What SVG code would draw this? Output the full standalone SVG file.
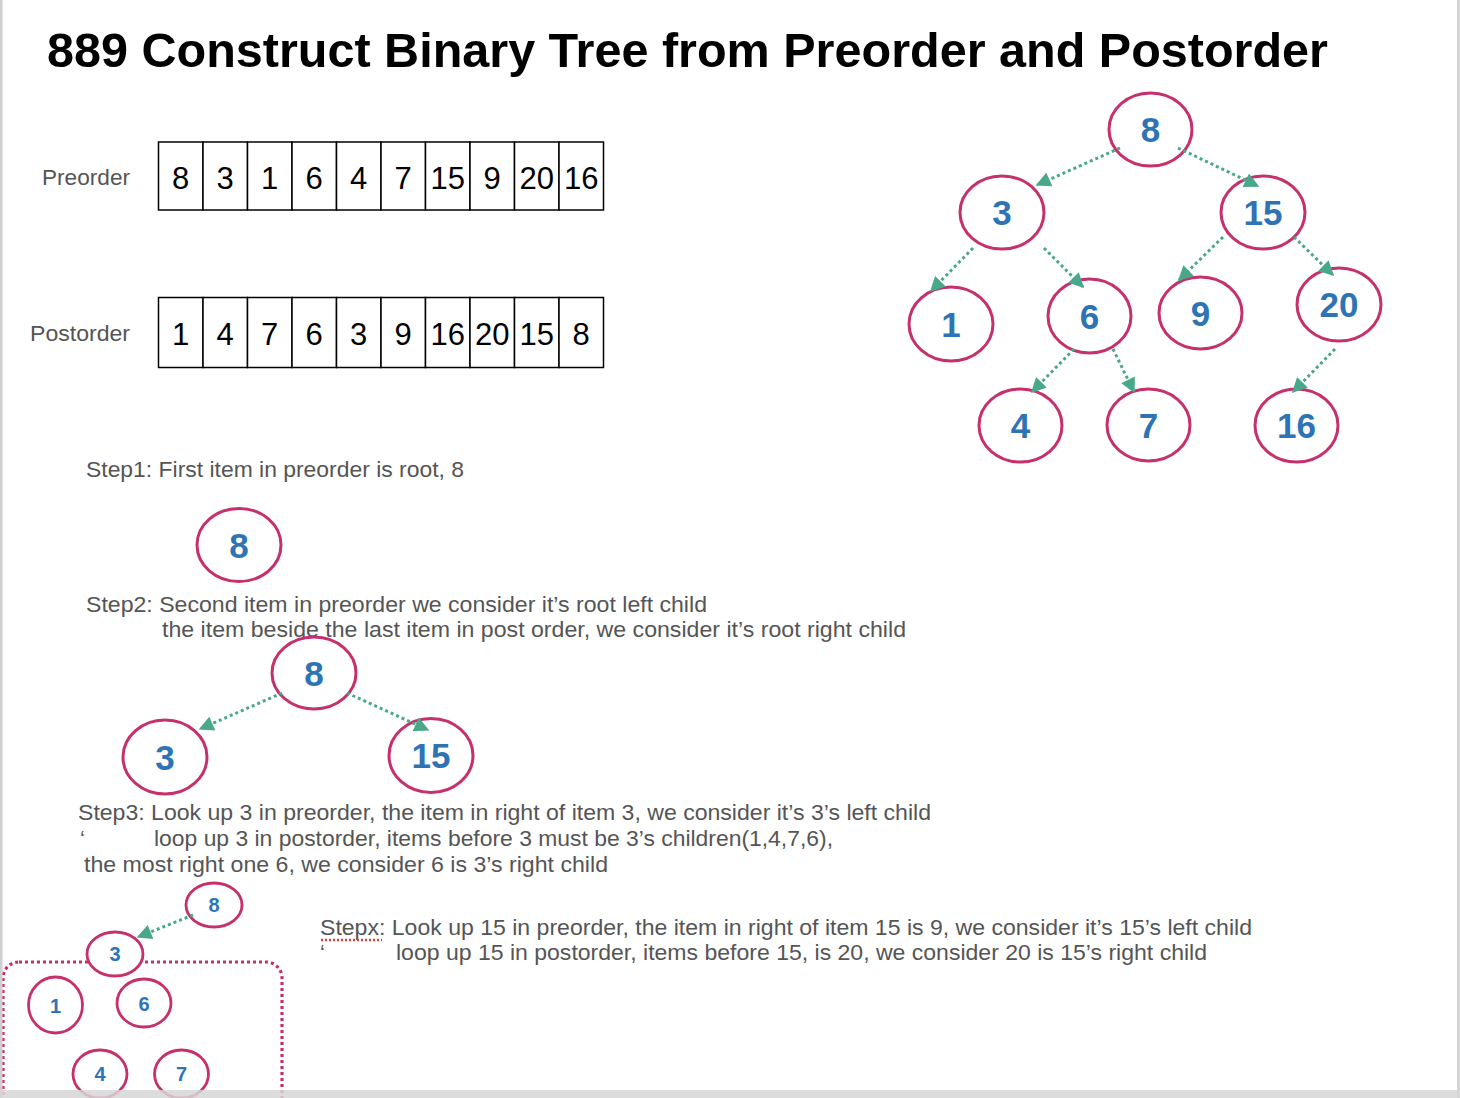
<svg xmlns="http://www.w3.org/2000/svg" width="1460" height="1098" viewBox="0 0 1460 1098">
<defs>
<style>
.title{font-family:"Liberation Sans",Arial,sans-serif;font-weight:bold;font-size:48px;fill:#000}
.lbl{font-family:"Liberation Sans",Arial,sans-serif;font-size:22px;fill:#555}
.cell{fill:#fff;stroke:#000;stroke-width:1.5}
.num{font-family:"Liberation Sans",Arial,sans-serif;font-size:31px;fill:#000;text-anchor:middle}
.node ellipse{fill:#fff;stroke:#c5306d;stroke-width:3}
.node text{font-family:"Liberation Sans",Arial,sans-serif;font-weight:bold;font-size:35px;fill:#2e74b5;text-anchor:middle}
.small ellipse{stroke-width:2.8}
.small text{font-size:20px}
.edge{stroke:#4aa88a;stroke-width:3;stroke-dasharray:3 3;fill:none;marker-end:url(#ah)}
</style>
<marker id="ah" viewBox="0 0 10 10" refX="9" refY="5" markerUnits="userSpaceOnUse" markerWidth="16" markerHeight="15" orient="auto">
<path d="M0,0 L10,5 L0,10 z" fill="#4aa88a"/>
</marker>
</defs>
<rect width="1460" height="1098" fill="#fff"/>
<text class="title" x="47" y="67" textLength="1281" lengthAdjust="spacingAndGlyphs">889 Construct Binary Tree from Preorder and Postorder</text>

<g id="preorder">
<text class="lbl" x="42" y="185" textLength="88" lengthAdjust="spacingAndGlyphs">Preorder</text>
<rect class="cell" x="158.5" y="142" width="44.5" height="68"/>
<rect class="cell" x="203" y="142" width="44.5" height="68"/>
<rect class="cell" x="247.5" y="142" width="44.5" height="68"/>
<rect class="cell" x="292" y="142" width="44.5" height="68"/>
<rect class="cell" x="336.5" y="142" width="44.5" height="68"/>
<rect class="cell" x="381" y="142" width="44.5" height="68"/>
<rect class="cell" x="425.5" y="142" width="44.5" height="68"/>
<rect class="cell" x="470" y="142" width="44.5" height="68"/>
<rect class="cell" x="514.5" y="142" width="44.5" height="68"/>
<rect class="cell" x="559" y="142" width="44.5" height="68"/>
<text class="num" x="180.7" y="188.5">8</text>
<text class="num" x="225.2" y="188.5">3</text>
<text class="num" x="269.7" y="188.5">1</text>
<text class="num" x="314.2" y="188.5">6</text>
<text class="num" x="358.7" y="188.5">4</text>
<text class="num" x="403.2" y="188.5">7</text>
<text class="num" x="447.7" y="188.5">15</text>
<text class="num" x="492.2" y="188.5">9</text>
<text class="num" x="536.7" y="188.5">20</text>
<text class="num" x="581.2" y="188.5">16</text>
</g>

<g id="postorder">
<text class="lbl" x="30" y="341" textLength="100" lengthAdjust="spacingAndGlyphs">Postorder</text>
<rect class="cell" x="158.5" y="297.5" width="44.5" height="70"/>
<rect class="cell" x="203" y="297.5" width="44.5" height="70"/>
<rect class="cell" x="247.5" y="297.5" width="44.5" height="70"/>
<rect class="cell" x="292" y="297.5" width="44.5" height="70"/>
<rect class="cell" x="336.5" y="297.5" width="44.5" height="70"/>
<rect class="cell" x="381" y="297.5" width="44.5" height="70"/>
<rect class="cell" x="425.5" y="297.5" width="44.5" height="70"/>
<rect class="cell" x="470" y="297.5" width="44.5" height="70"/>
<rect class="cell" x="514.5" y="297.5" width="44.5" height="70"/>
<rect class="cell" x="559" y="297.5" width="44.5" height="70"/>
<text class="num" x="180.7" y="344.5">1</text>
<text class="num" x="225.2" y="344.5">4</text>
<text class="num" x="269.7" y="344.5">7</text>
<text class="num" x="314.2" y="344.5">6</text>
<text class="num" x="358.7" y="344.5">3</text>
<text class="num" x="403.2" y="344.5">9</text>
<text class="num" x="447.7" y="344.5">16</text>
<text class="num" x="492.2" y="344.5">20</text>
<text class="num" x="536.7" y="344.5">15</text>
<text class="num" x="581.2" y="344.5">8</text>
</g>

<g id="texts">
<text class="lbl" x="86" y="477" textLength="378" lengthAdjust="spacingAndGlyphs">Step1: First item in preorder is root, 8</text>
<text class="lbl" x="86" y="612" textLength="621" lengthAdjust="spacingAndGlyphs">Step2: Second item in preorder we consider it’s root left child</text>
<text class="lbl" x="162" y="637" textLength="744" lengthAdjust="spacingAndGlyphs">the item beside the last item in post order, we consider it’s root right child</text>
<text class="lbl" x="78" y="820" textLength="853" lengthAdjust="spacingAndGlyphs">Step3: Look up 3 in preorder, the item in right of item 3, we consider it’s 3’s left child</text>
<text class="lbl" x="80" y="846">‘</text>
<text class="lbl" x="154" y="846" textLength="679" lengthAdjust="spacingAndGlyphs">loop up 3 in postorder, items before 3 must be 3’s children(1,4,7,6),</text>
<text class="lbl" x="84" y="872" textLength="524" lengthAdjust="spacingAndGlyphs">the most right one 6, we consider 6 is 3’s right child</text>
<text class="lbl" x="320" y="935" textLength="932" lengthAdjust="spacingAndGlyphs">Stepx: Look up 15 in preorder, the item in right of item 15 is 9, we consider it’s 15’s left child</text>
<line x1="321" y1="940" x2="382" y2="940" stroke="#e0403a" stroke-width="2.5" stroke-dasharray="2 2"/>
<text class="lbl" x="320" y="960">‘</text>
<text class="lbl" x="396" y="960" textLength="811" lengthAdjust="spacingAndGlyphs">loop up 15 in postorder, items before 15, is 20, we consider 20 is 15’s right child</text>
</g>

<rect id="group-box" x="3" y="962" width="279" height="160" rx="16" fill="none" stroke="#c5306d" stroke-width="3.2" stroke-dasharray="3 3"/>

<g id="tree">
<g id="t8" class="node"><ellipse cx="1150.5" cy="129.5" rx="41.5" ry="36.5"/><text x="1150.5" y="142">8</text></g>
<g id="t3" class="node"><ellipse cx="1002" cy="212.5" rx="42" ry="36.5"/><text x="1002" y="225">3</text></g>
<g id="t15" class="node"><ellipse cx="1263" cy="212.5" rx="42" ry="36.5"/><text x="1263" y="225">15</text></g>
<g id="t1" class="node"><ellipse cx="951" cy="324" rx="42" ry="37"/><text x="951" y="336.5">1</text></g>
<g id="t6" class="node"><ellipse cx="1089.5" cy="316" rx="41.5" ry="37"/><text x="1089.5" y="328.5">6</text></g>
<g id="t9" class="node"><ellipse cx="1200.5" cy="313" rx="41.5" ry="36"/><text x="1200.5" y="325.5">9</text></g>
<g id="t20" class="node"><ellipse cx="1339" cy="304.5" rx="42" ry="36.5"/><text x="1339" y="317">20</text></g>
<g id="t4" class="node"><ellipse cx="1020.5" cy="425.5" rx="41.5" ry="36.5"/><text x="1020.5" y="438">4</text></g>
<g id="t7" class="node"><ellipse cx="1148.5" cy="425" rx="41.5" ry="36"/><text x="1148.5" y="437.5">7</text></g>
<g id="t16" class="node"><ellipse cx="1296.5" cy="425.5" rx="41.5" ry="36.5"/><text x="1296.5" y="438">16</text></g>
</g>

<g id="step1">
<g id="s1n8" class="node"><ellipse cx="239" cy="545" rx="42" ry="36.5"/><text x="239" y="557.5">8</text></g>
</g>

<g id="step2">
<g id="s2n8" class="node"><ellipse cx="314" cy="673" rx="42" ry="36"/><text x="314" y="685.5">8</text></g>
<g id="s2n3" class="node"><ellipse cx="165" cy="757" rx="42" ry="37"/><text x="165" y="769.5">3</text></g>
<g id="s2n15" class="node"><ellipse cx="431" cy="755.5" rx="42" ry="37"/><text x="431" y="768">15</text></g>
</g>

<g id="step3">
<g id="s3n8" class="node small"><ellipse cx="214" cy="905" rx="28" ry="22"/><text x="214" y="912">8</text></g>
<g id="s3n3" class="node small"><ellipse cx="115" cy="954" rx="28" ry="22"/><text x="115" y="961">3</text></g>
<g id="s3n1" class="node small"><ellipse cx="55.5" cy="1005" rx="27" ry="28"/><text x="55.5" y="1012.5">1</text></g>
<g id="s3n6" class="node small"><ellipse cx="144" cy="1003" rx="27" ry="24"/><text x="144" y="1010.5">6</text></g>
<g id="s3n4" class="node small"><ellipse cx="100" cy="1074" rx="27" ry="24"/><text x="100" y="1081">4</text></g>
<g id="s3n7" class="node small"><ellipse cx="181.5" cy="1074" rx="27" ry="24"/><text x="181.5" y="1081">7</text></g>
</g>

<g id="connectors">
<line class="edge" x1="1120" y1="148" x2="1037" y2="185"/>
<line class="edge" x1="1178" y1="148" x2="1258" y2="186"/>
<line class="edge" x1="973" y1="248" x2="931" y2="291"/>
<line class="edge" x1="1044" y1="248" x2="1083" y2="287"/>
<line class="edge" x1="1223" y1="237" x2="1179" y2="280"/>
<line class="edge" x1="1294" y1="237" x2="1333" y2="275"/>
<line class="edge" x1="1074" y1="349" x2="1032" y2="392"/>
<line class="edge" x1="1113" y1="349" x2="1134" y2="392"/>
<line class="edge" x1="1335" y1="349" x2="1293" y2="392"/>
<line class="edge" x1="282" y1="693" x2="200" y2="729"/>
<line class="edge" x1="347" y1="693" x2="428" y2="730"/>
<line class="edge" x1="193" y1="915" x2="138" y2="937"/>
</g>

<g id="page-frame">
<rect x="0" y="0" width="2.5" height="1098" fill="#cfcfcf"/>
<rect x="1457" y="0" width="3" height="1098" fill="#d4d4d4"/>
<rect x="0" y="1090" width="1460" height="8" fill="#d6d6d6" opacity="0.85"/>
</g>
</svg>
